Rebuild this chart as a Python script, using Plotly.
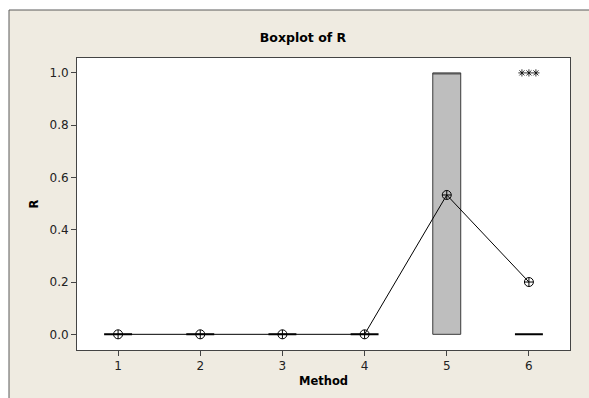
import plotly.graph_objects as go

# ---- data ----
methods = [1, 2, 3, 4, 5, 6]
q1 = [0.0, 0.0, 0.0, 0.0, 0.0, 0.0]
medians = [0.0, 0.0, 0.0, 0.0, 1.0, 0.0]
q3 = [0.0, 0.0, 0.0, 0.0, 1.0, 0.0]
lower_whisker = [0.0, 0.0, 0.0, 0.0, 0.0, 0.0]
upper_whisker = [0.0, 0.0, 0.0, 0.0, 1.0, 0.0]
means = [0.0, 0.0, 0.0, 0.0, 0.533, 0.2]
outlier_method = [6, 6, 6]
outlier_value = [1.0, 1.0, 1.0]
y_ticks = [0.0, 0.2, 0.4, 0.6, 0.8, 1.0]

W, H = 589, 398
ML, MR, MT, MB = 77, 19, 58, 48
pw = W - ML - MR
ph = H - MT - MB

fig = go.Figure()

for i, m in enumerate(methods):
    flat = q1[i] == q3[i]
    fig.add_trace(go.Box(
        x=[m], q1=[q1[i]], median=[medians[i]], q3=[q3[i]],
        lowerfence=[lower_whisker[i]], upperfence=[upper_whisker[i]],
        width=0.34, whiskerwidth=0, boxpoints=False,
        fillcolor="rgba(0,0,0,0)" if flat else "#BEBEBE",
        line=dict(color="#000000" if flat else "#3a3a3a", width=2 if flat else 1),
        showlegend=False, hoverinfo="skip",
    ))

fig.add_trace(go.Scatter(
    x=methods, y=means, mode="lines+markers",
    line=dict(color="black", width=1),
    marker=dict(symbol="circle-cross-open", size=9, color="black",
                line=dict(width=1, color="black")),
    showlegend=False,
))

# tied outliers are spread sideways (as Minitab does)
n_by = {m: outlier_method.count(m) for m in set(outlier_method)}
seen = {}
ox = []
for m in outlier_method:
    k = seen.get(m, 0)
    seen[m] = k + 1
    ox.append(m + (k - (n_by[m] - 1) / 2) * 0.085)
fig.add_trace(go.Scatter(
    x=ox, y=outlier_value, mode="markers",
    marker=dict(symbol="asterisk-open", size=6, color="black",
                line=dict(width=0.8, color="black")),
    showlegend=False,
))

shapes = [
    # outer beige frame
    dict(type="rect", xref="paper", yref="paper",
         x0=(9 - ML) / pw, x1=(W + 20 - ML) / pw,
         y0=-(H + 20 - MT - ph) / ph, y1=1 + (MT - 10) / ph,
         fillcolor="#EFEBE1", line=dict(color="#5a5a5a", width=1), layer="below"),
    # white plot area
    dict(type="rect", xref="paper", yref="paper", x0=0, x1=1, y0=0, y1=1,
         fillcolor="white", line=dict(width=0), layer="below"),
]

fig.update_layout(
    width=W, height=H,
    margin=dict(l=ML, r=MR, t=MT, b=MB),
    paper_bgcolor="white", plot_bgcolor="rgba(0,0,0,0)",
    shapes=shapes,
    title=dict(text="<b>Boxplot of R</b>", x=303 / W, xanchor="center",
               y=1 - 38 / H, yanchor="middle",
               font=dict(family="DejaVu Sans", size=12.5, color="black")),
    font=dict(family="DejaVu Sans", size=12, color="#222222"),
    boxmode="overlay",
)
fig.update_xaxes(
    range=[0.5, 6.5], tickvals=methods, ticktext=[str(m) for m in methods],
    tickfont=dict(size=12, color="#222222"),
    showgrid=False, zeroline=False, showline=True, linecolor="#444444", linewidth=1,
    mirror=True, ticks="outside", ticklen=5, tickcolor="#444444",
    title=dict(text="<b>Method</b>", font=dict(size=11.5, color="black"), standoff=4),
)
fig.update_yaxes(
    range=[-0.06, 1.057], tickvals=y_ticks, tickformat=".1f",
    tickfont=dict(size=12, color="#222222"),
    showgrid=False, zeroline=False, showline=True, linecolor="#444444", linewidth=1,
    mirror=True, ticks="outside", ticklen=5, tickcolor="#444444",
    title=dict(text="<b>R</b>", font=dict(size=11.5, color="black"), standoff=8),
)

fig.write_html("out.html")
